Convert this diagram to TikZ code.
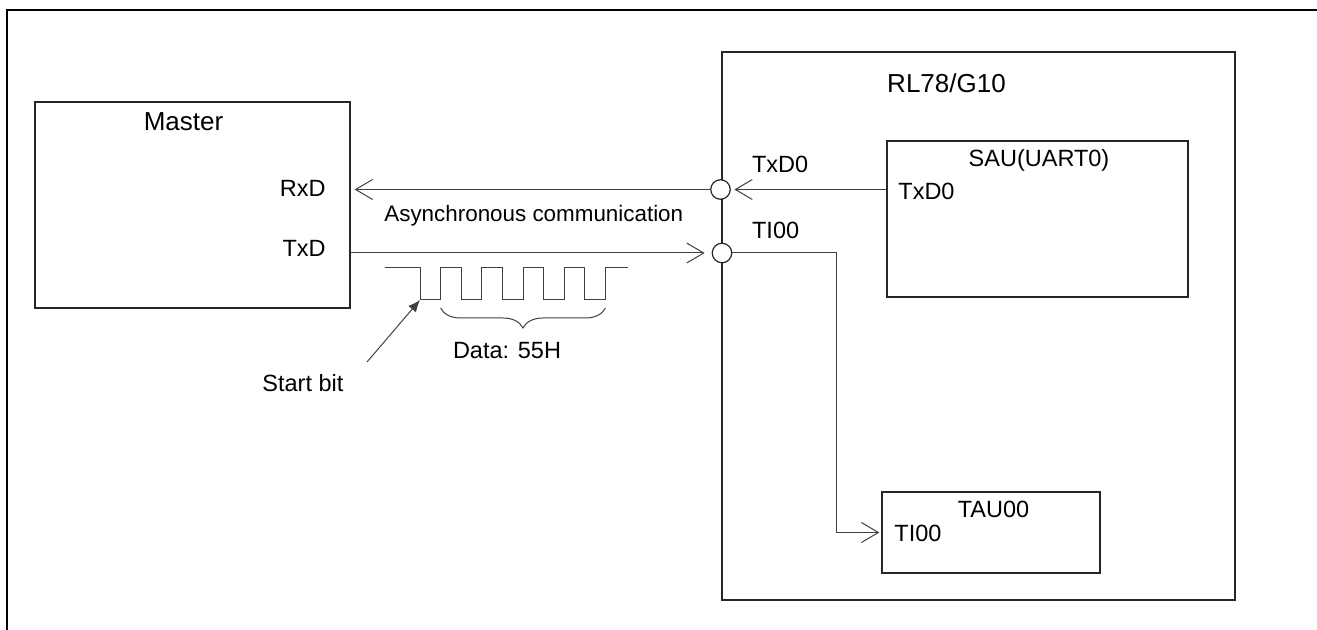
\documentclass[tikz,border=0pt]{standalone}
\usepackage{fontspec}
\setsansfont{Liberation Sans}
\usetikzlibrary{arrows.meta,decorations.pathreplacing}

\begin{document}
\begin{tikzpicture}[
        %Environment config
        x=0.5pt, y=-0.5pt,
        font=\sffamily\fontsize{11.75}{14}\selectfont,
        %Environment styles
        BoxCfg/.style={
            draw=black!85,
            line width=0.65pt,
            inner sep=0
        },
        PinCfg/.style={
            circle,
            draw=black!85,
            fill=white,
            line width=0.6pt,
            minimum size=9.75pt,
            inner sep=0
        },
        WireCfg/.style={
            draw=black!75,
            line width=0.5pt
        },
        OpenArrow/.style={
            -{Straight Barb[length=8.5pt,width=10pt,line width=0.5pt]}
        },
        TextCfg/.style={inner sep=0},
        TitleCfg/.style={
            inner sep=0,
            font=\sffamily\fontsize{13}{15}\selectfont
        }
    ]
    \useasboundingbox (0,0) rectangle (1317,630);

    %frame
    \draw[line width=1.1pt] (1317,10) -- (7,10) -- (7,630);

    %blocks
    \path
        (192.5,205) node[BoxCfg,minimum width=157.5pt,minimum height=103pt](Master){}
        (978.5,326) node[BoxCfg,minimum width=256.5pt,minimum height=274pt](Chip){}
        (1037.5,219) node[BoxCfg,minimum width=150.5pt,minimum height=78pt](SAU){}
        (991,532.5) node[BoxCfg,minimum width=109pt,minimum height=40.5pt](TAU){};

    %pins
    \path
        (720.5,189.5) node[PinCfg](P1){}
        (722,253) node[PinCfg](P2){};

    %labels
    \node[TitleCfg,anchor=base] (MasterLbl) at (183.5,130.7) {Master};
    \node[TextCfg,anchor=base east] (RxDLbl) at (326,196.7) {RxD};
    \node[TextCfg,anchor=base east] (TxDLbl) at (326,256.7) {TxD};
    \node[TextCfg,anchor=base west,font=\sffamily\fontsize{11.2}{13}\selectfont]
        (AsyncLbl) at (384,221.5) {Asynchronous communication};
    \node[TitleCfg,anchor=base] (ChipLbl) at (946.5,92.7) {RL78/G10};
    \node[TextCfg,anchor=base west] (P1Lbl) at (751.7,172.7) {TxD0};
    \node[TextCfg,anchor=base west] (P2Lbl) at (751.7,238.3) {TI00};
    \node[TextCfg,anchor=base] (SAULbl) at (1039,166.7) {SAU(UART0)};
    \node[TextCfg,anchor=base west] (SAUTxD) at (898,200) {TxD0};
    \node[TextCfg,anchor=base] (TAULbl) at (993.5,517.3) {TAU00};
    \node[TextCfg,anchor=base west] (TAUTI) at (894,541.7) {TI00};
    \node[TextCfg,anchor=base] (DataLbl) at (507,358.3) {Data: 55H};
    \node[TextCfg,anchor=base west] (StartLbl) at (262,392) {Start bit};

    %connections
    \coordinate (Turn) at (836,535);
    \draw[WireCfg,OpenArrow,shorten >=1.75pt] (P1 -| SAU.west) -- (P1);
    \draw[WireCfg,OpenArrow,shorten >=2pt] (P1) -- (P1 -| Master.east);
    \draw[WireCfg,OpenArrow,shorten >=3.5pt] (Master.east |- P2) -- (P2);
    \draw[WireCfg,OpenArrow,shorten >=1pt] (P2) -- (P2 -| Turn) |- (TAU.west);

    %waveform 55H
    \draw[WireCfg]
        (385,268) -| (420,300)
        foreach \i in {1,...,4}{ -| ++(20.6,-32) -| ++(20.6,32) }
        -| ++(20.6,-32) -- ++(23,0);

    \coordinate (SBit) at (420,300);
    \coordinate (SBtail) at (367,362);
    \draw[WireCfg,-{Latex[length=6pt,width=5pt]}] (SBtail) -- (SBit);

    \coordinate (BrL) at (440.6,308);
    \coordinate (BrR) at (605.4,308);
    \draw[WireCfg,decorate,decoration={brace,mirror,amplitude=10pt}] (BrL) -- (BrR);
\end{tikzpicture}
\end{document}
